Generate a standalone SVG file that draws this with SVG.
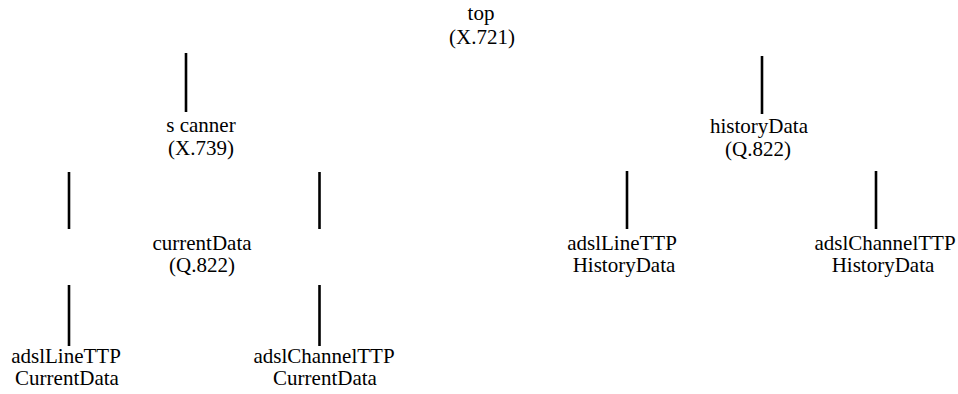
<svg xmlns="http://www.w3.org/2000/svg" width="958" height="394" viewBox="0 0 958 394">
<style>
.c { stroke: #000; stroke-width: 2.6; fill: none; }
</style>
<rect width="958" height="394" fill="#fff"/>
<g id="connectors">
<line class="c" x1="186" y1="53" x2="186" y2="112"/>
<line class="c" x1="762" y1="56" x2="762" y2="114"/>
<line class="c" x1="69" y1="172" x2="69" y2="229"/>
<line class="c" x1="319.5" y1="172" x2="319.5" y2="229"/>
<line class="c" x1="69" y1="285" x2="69" y2="346"/>
<line class="c" x1="319.5" y1="285" x2="319.5" y2="346"/>
<line class="c" x1="627" y1="171" x2="627" y2="229"/>
<line class="c" x1="876" y1="171" x2="876" y2="229"/>
</g>
<g font-family="Liberation Serif" font-size="21" text-anchor="middle" fill="#000">
<g id="top">
<text x="481" y="20">top</text>
<text x="482" y="44">(X.721)</text>
</g>
<g id="scanner">
<text x="201" y="132">s canner</text>
<text x="201" y="155">(X.739)</text>
</g>
<g id="historyData">
<text x="759" y="133">historyData</text>
<text x="758" y="156">(Q.822)</text>
</g>
<g id="currentData">
<text x="202" y="250">currentData</text>
<text x="202" y="272">(Q.822)</text>
</g>
<g id="adslLineTTPCurrentData">
<text x="66" y="363">adslLineTTP</text>
<text x="67" y="385">CurrentData</text>
</g>
<g id="adslChannelTTPCurrentData">
<text x="324" y="363">adslChannelTTP</text>
<text x="325" y="385">CurrentData</text>
</g>
<g id="adslLineTTPHistoryData">
<text x="622" y="250">adslLineTTP</text>
<text x="624" y="272">HistoryData</text>
</g>
<g id="adslChannelTTPHistoryData">
<text x="885" y="250">adslChannelTTP</text>
<text x="883" y="272">HistoryData</text>
</g>
</g>
</svg>
